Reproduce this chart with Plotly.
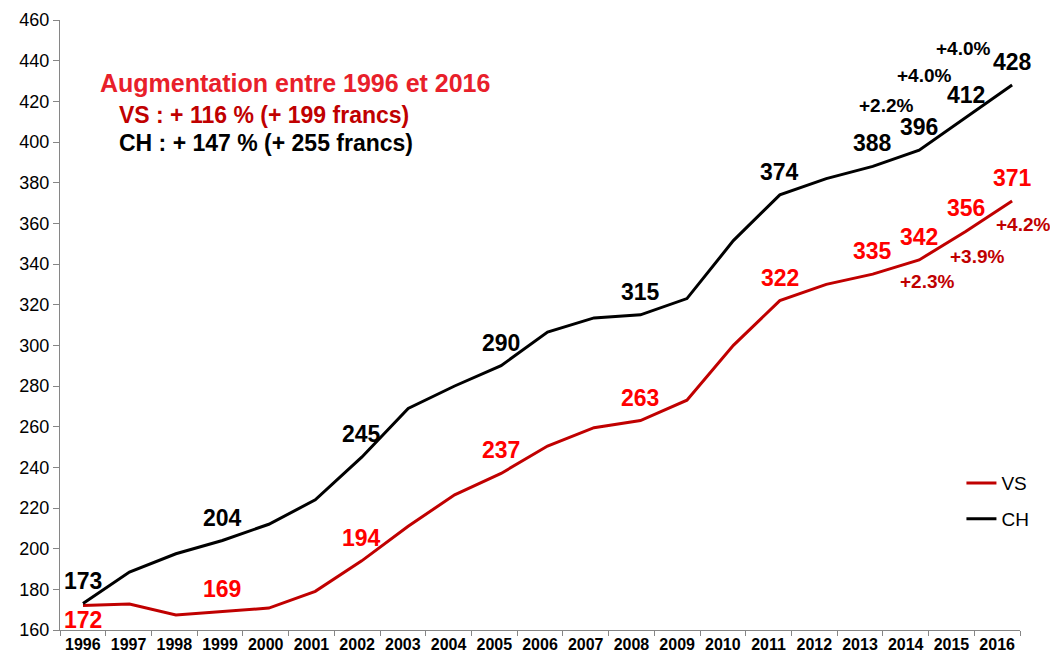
import plotly.graph_objects as go

years = [str(y) for y in range(1996, 2017)]
ch_values = [173, 188.5, 197.5, 204, 212, 224, 245, 269, 280, 290, 306.5, 313.5,
             315, 323, 351.5, 374, 382, 388, 396, 412, 428]
vs_values = [172, 172.8, 167.4, 169, 170.8, 179, 194, 211, 226.5, 237, 250.5, 259.5,
             263, 273, 300, 322, 330, 335, 342, 356, 371]

labelled_years = ["1996", "1999", "2002", "2005", "2008", "2011", "2013", "2014", "2015", "2016"]
pct_years = ["2014", "2015", "2016"]
ch_pct = ["+2.2%", "+4.0%", "+4.0%"]
vs_pct = ["+2.3%", "+3.9%", "+4.2%"]

title_lines = ["Augmentation entre 1996 et 2016",
               "VS : + 116 % (+ 199 francs)",
               "CH : + 147 % (+ 255 francs)"]

FONT = "Liberation Sans, Arial, sans-serif"
RED_LINE = "#C00000"
RED_LABEL = "#FF0000"

idx = list(range(len(years)))

fig = go.Figure()
fig.add_trace(go.Scatter(x=idx, y=vs_values, mode="lines", name="VS", xaxis="x2",
                         line=dict(color=RED_LINE, width=3), legendgroup="vs"))
fig.add_trace(go.Scatter(x=idx, y=ch_values, mode="lines", name="CH", xaxis="x2",
                         line=dict(color="black", width=3), legendgroup="ch"))
# invisible trace to hold the category axis
fig.add_trace(go.Scatter(x=years, y=[None] * len(years), mode="lines",
                         showlegend=False, hoverinfo="skip"))

ann = []
for yr in labelled_years:
    i = years.index(yr)
    ann.append(dict(x=i, y=ch_values[i], xref="x2", text=f"{ch_values[i]:g}", showarrow=False,
                    yshift=23, font=dict(family=FONT, size=23, color="black", weight="bold")))
    ann.append(dict(x=i, y=vs_values[i], xref="x2", text=f"{vs_values[i]:g}", showarrow=False,
                    yshift=(-14 if yr == "1996" else 23),
                    font=dict(family=FONT, size=23, color=RED_LABEL, weight="bold")))

ch_pct_shift = [(-33, 45), (-41, 42), (-49, 37)]
vs_pct_shift = [(8, -22), (12, -25), (11, -24)]
for k, yr in enumerate(pct_years):
    i = years.index(yr)
    ann.append(dict(x=i, y=ch_values[i], xref="x2", text=ch_pct[k], showarrow=False,
                    xshift=ch_pct_shift[k][0], yshift=ch_pct_shift[k][1],
                    font=dict(family=FONT, size=19, color="black", weight="bold")))
    ann.append(dict(x=i, y=vs_values[i], xref="x2", text=vs_pct[k], showarrow=False,
                    xshift=vs_pct_shift[k][0], yshift=vs_pct_shift[k][1],
                    font=dict(family=FONT, size=19, color=RED_LINE, weight="bold")))

# summary text block (page pixel positions converted to paper coords)
title_pos = [(98, 83, 25, "#E8202A"),
             (117, 115, 23, RED_LINE),
             (117, 143, 23, "black")]
for txt, (px, py, fs, col) in zip(title_lines, title_pos):
    ann.append(dict(xref="paper", yref="paper", x=(px - 60) / 960,
                    y=(630 - py) / 610, text=txt, showarrow=False,
                    xanchor="left", yanchor="middle",
                    font=dict(family=FONT, size=fs, color=col, weight="bold")))

fig.update_layout(
    width=1050, height=652,
    margin=dict(l=52, r=38, t=12, b=30, autoexpand=False),
    paper_bgcolor="white", plot_bgcolor="white",
    font=dict(family=FONT, color="black"),
    annotations=ann,
    showlegend=True,
    legend=dict(x=0.939, y=0.272, xanchor="left", yanchor="top",
                font=dict(size=19, color="black", family=FONT),
                bgcolor="rgba(0,0,0,0)", tracegroupgap=8, itemwidth=30),
    xaxis=dict(type="category", range=[-0.5, len(years) - 0.5],
               tickson="boundaries", ticks="outside", ticklen=5, tickangle=0,
               tickcolor="#868686", showline=True, linecolor="#868686", linewidth=1,
               showgrid=False, zeroline=False, automargin=False,
               tickfont=dict(family=FONT, size=16, color="black", weight="bold")),
    xaxis2=dict(overlaying="x", range=[-0.495, 20.17], visible=False,
                showgrid=False, zeroline=False),
    yaxis=dict(range=[160, 460], dtick=20, tick0=160, ticks="outside", ticklen=6,
               tickcolor="#868686", showline=True, linecolor="#868686", linewidth=1,
               showgrid=False, zeroline=False, automargin=False,
               tickfont=dict(family=FONT, size=18, color="black")),
)

fig.write_html("out.html")
